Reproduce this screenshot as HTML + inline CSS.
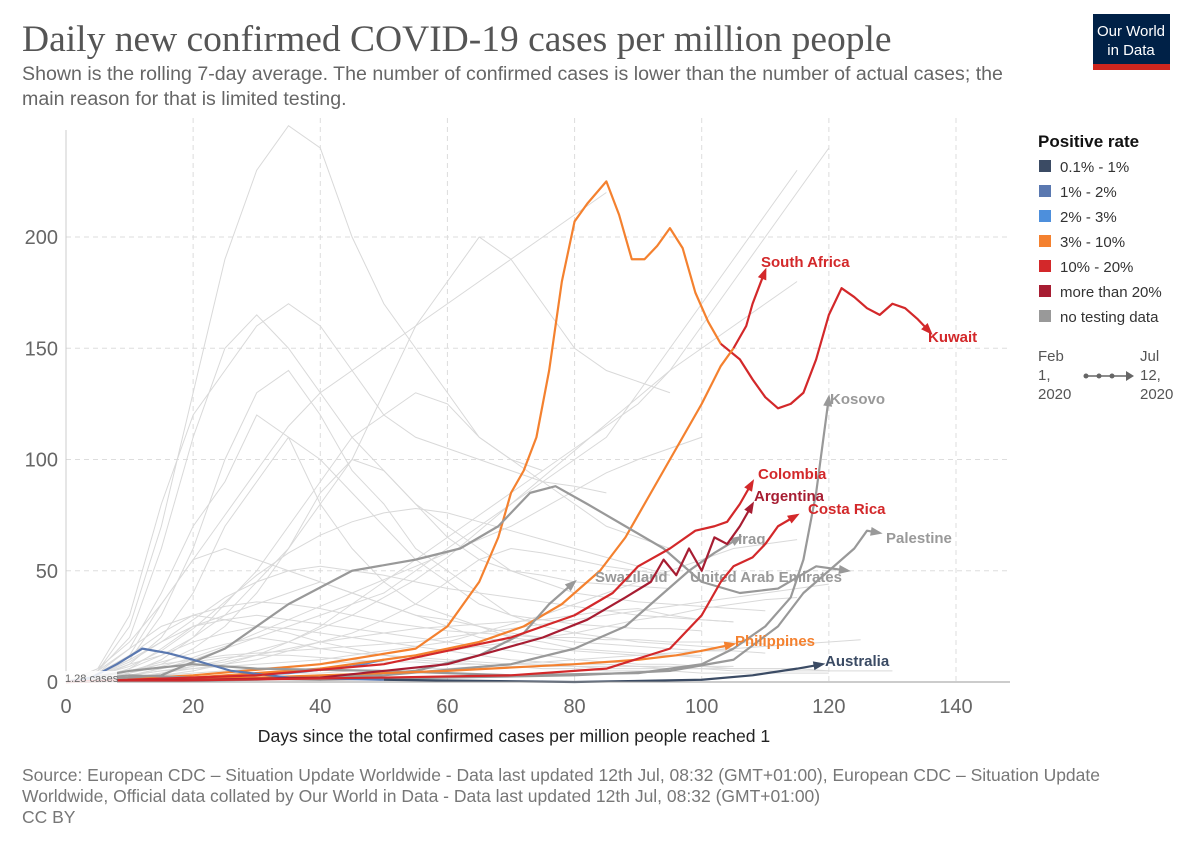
<!DOCTYPE html>
<html><head><meta charset="utf-8">
<style>
body{margin:0;background:#fff;width:1200px;height:847px;overflow:hidden;font-family:"Liberation Sans",sans-serif}
svg{position:absolute;left:0;top:0}
</style></head>
<body>
<svg id="chart" width="1200" height="847">
<text x="22" y="51" font-family="Liberation Serif,serif" font-size="37.5" fill="#555">Daily new confirmed COVID-19 cases per million people</text>
<text x="22" y="80" font-size="19.6" fill="#666">Shown is the rolling 7-day average. The number of confirmed cases is lower than the number of actual cases; the</text>
<text x="22" y="105" font-size="19.6" fill="#666">main reason for that is limited testing.</text>
<g>
<rect x="1093" y="14" width="77" height="56" fill="#002147"/>
<rect x="1093" y="64" width="77" height="6" fill="#ce261e"/>
<text x="1131" y="36" font-size="15" fill="#fff" text-anchor="middle">Our World</text>
<text x="1131" y="55" font-size="15" fill="#fff" text-anchor="middle">in Data</text>
</g>
<g id="grid"></g>
<g id="bg"></g>
<g id="hl"></g>
<g id="axes"></g>
<text x="514" y="742" font-size="17.6" fill="#222" text-anchor="middle">Days since the total confirmed cases per million people reached 1</text>
<g id="legend">
<text x="1038" y="147" font-size="17" font-weight="bold" fill="#111">Positive rate</text>
</g>
<g>
<text x="1038" y="361" font-size="15" fill="#555">Feb</text>
<text x="1038" y="380" font-size="15" fill="#555">1,</text>
<text x="1038" y="399" font-size="15" fill="#555">2020</text>
<text x="1140" y="361" font-size="15" fill="#555">Jul</text>
<text x="1140" y="380" font-size="15" fill="#555">12,</text>
<text x="1140" y="399" font-size="15" fill="#555">2020</text>
<line x1="1084" y1="376" x2="1130" y2="376" stroke="#666" stroke-width="1.5"/>
<circle cx="1086" cy="376" r="2.5" fill="#666"/><circle cx="1099" cy="376" r="2.5" fill="#666"/><circle cx="1112" cy="376" r="2.5" fill="#666"/>
<path d="M1126 371 L1134 376 L1126 381Z" fill="#666"/>
</g>
<text x="22" y="781" font-size="17.5" fill="#777">Source: European CDC – Situation Update Worldwide - Data last updated 12th Jul, 08:32 (GMT+01:00), European CDC – Situation Update</text>
<text x="22" y="802" font-size="17.5" fill="#777">Worldwide, Official data collated by Our World in Data - Data last updated 12th Jul, 08:32 (GMT+01:00)</text>
<text x="22" y="823" font-size="17.5" fill="#777">CC BY</text>
</svg>
<script>
const xTicks=[0,20,40,60,80,100,120,140];
const yTicks=[0,50,100,150,200];
const legendLabels=["0.1% - 1%","1% - 2%","2% - 3%","3% - 10%","10% - 20%","more than 20%","no testing data"];
const legendColors=["#3b4b64","#5a78b0","#4d8fdc","#f4812f","#d3282a","#a71d32","#999"];
// background series: values every 5 days from day 0
const bgSeries=[
[0,5,20,60,110,150,165,150,130,110,95,80,70,60,50,45,40,38,36,35,34,33,32],
[0,3,10,30,60,100,130,140,120,95,80,60,50,40,30,25,22,20,18,17,16,15],
[0,2,8,20,40,70,90,110,100,85,70,55,45,35,30,28,26,25,24,24,23],
[0,4,15,40,70,90,120,110,80,60,45,35,30,25,20,18,15,14,13,12,12],
[0,1,4,10,20,35,50,70,90,110,120,130,125,110,100,90,80,70,65,60],
[0,2,6,15,25,30,35,40,45,40,35,30,28,25,22,20,18,17,16,15,14,14,13],
[0,1,3,6,10,15,20,25,30,35,40,50,60,70,80,90,100,110,130,150,170,190,210,230],
[0,3,8,12,18,22,25,24,22,20,18,16,14,12,10,9,8,8,7,7,7,6,6,6],
[0,1,2,4,6,8,10,14,18,22,28,35,45,55,60,58,55,52,50,48],
[0,2,5,9,13,17,20,18,15,13,12,11,10,9,8,8,7,7,7,6,6,6,6,6,5],
[0,5,25,70,130,190,230,250,240,200,170,150,130,110,100,95],
[0,1,2,3,4,5,6,7,8,9,10,12,14,16,18,20,22,25,28,30,33,35,37,38],
[0,3,12,35,55,60,55,50,45,40,35,30,25,20,18,15,14,13,12,12,11],
[0,2,4,8,15,25,40,60,85,100,95,80,65,55,50,48,45,44,43,42],
[0,1,3,5,7,9,12,15,18,20,22,24,25,26,27,28,30,32,33,30,28,27],
[0,4,10,18,25,28,30,28,26,24,22,20,18,16,14,12,10,9,8,8,7,7],
[0,6,30,80,120,140,160,170,160,140,120,110,105,100,95,90,88,85],
[0,2,6,12,20,30,45,60,80,100,130,160,180,200,190,170,150,140,135,130],
[0,1,2,3,5,8,12,18,25,35,45,55,65,75,85,95,105,115,125,140,160,180,200,220,240],
[0,3,9,18,28,38,45,50,52,50,48,45,42,40,38,36,34,32,30,29,28,27],
[0,2,5,8,10,12,13,14,15,16,17,18,20,22,24,26,28,30,32,34,36,38,40,42,44],
[0,1,1,2,2,3,3,4,4,5,5,6,6,7,8,9,10,11,12,13,14,15,16,17,18,19],
[0,4,12,22,30,34,36,35,33,30,27,25,23,22,21,20,20,19,19,18,18,18,17],
[0,2,3,5,6,7,8,9,10,12,14,16,18,22,26,30,35,40,45,50,55,60,62,64],
[0,5,15,25,30,28,25,22,18,15,12,10,9,8,7,6,6,5,5,5,4,4,4,4,4],
[0,3,7,14,24,36,48,58,66,72,76,78,76,72,68,64,60,56,52,48],
[0,1,3,6,9,11,12,12,11,10,9,9,8,8,7,7,7,6,6,6,6,5,5,5,5,5,5],
[0,2,4,7,11,16,22,28,34,40,46,52,58,64,70,78,86,94,100,105,110],
[0,6,18,35,55,75,95,115,130,140,150,160,170,180,190,200,210,220],
[0,1,2,4,7,10,14,18,24,30,38,46,56,68,80,92,104,116,128,140,150,160,170,180]
];
// highlighted series: [day,value] pairs
const kuwaitOrange=[[0,0],[20,3],[40,8],[55,15],[60,25],[65,45],[68,65],[70,85],[72,95],[74,110],[76,140],[78,180],[80,207],[82,215],[85,225],[87,210],[89,190],[91,190],[93,196],[95,204],[97,195],[99,175],[101,162],[103,152]];
const kuwaitRed=[[103,152],[106,145],[108,136],[110,128],[112,123],[114,125],[116,130],[118,145],[120,165],[122,177],[124,173],[126,168],[128,165],[130,170],[132,168],[134,163],[136,157]];
const saOrange=[[0,0],[20,2],[40,6],[55,12],[65,18],[72,25],[78,35],[84,50],[88,65],[92,85],[96,105],[100,125],[103,142],[105,150]];
const saRed=[[105,150],[106,155],[107,160],[108,170],[110,185]];
const colombia=[[0,0],[30,3],[50,8],[60,14],[70,20],[80,30],[86,40],[90,52],[95,60],[99,68],[102,70],[104,72],[106,80],[108,90]];
const argentina=[[0,0],[40,2],[60,8],[75,20],[82,28],[88,38],[92,45],[94,55],[96,48],[98,60],[100,50],[102,65],[104,62],[106,70],[108,80]];
const costaRica=[[0,0],[50,2],[70,3],[85,6],[95,15],[100,30],[103,45],[105,52],[108,56],[110,62],[112,70],[115,75]];
const iraq=[[0,0],[30,1],[50,3],[70,8],[80,15],[88,25],[94,40],[98,50],[102,58],[106,65]];
const kosovo=[[0,0],[10,5],[20,8],[30,6],[50,5],[70,3],[90,4],[100,8],[105,15],[110,25],[114,38],[116,55],[118,85],[120,128]];
const palestine=[[0,0],[10,3],[20,2],[40,1],[60,2],[80,3],[95,5],[105,10],[112,25],[116,40],[120,50],[124,60],[126,68],[128,67]];
const uae=[[0,0],[15,3],[25,15],[35,35],[45,50],[55,55],[62,60],[68,70],[73,85],[77,88],[82,80],[88,70],[94,60],[100,45],[106,40],[112,42],[118,52],[123,50]];
const swaziland=[[0,0],[20,1],[40,2],[55,5],[65,12],[72,22],[76,35],[80,45]];
const philippines=[[0,0],[30,2],[60,5],[80,8],[90,10],[96,12],[100,14],[105,17]];
const australiaEarly=[[0,0],[4,2],[8,8],[12,15],[16,13],[20,10],[26,5],[35,2],[50,1]];
const australia=[[50,1],[80,0],[100,1],[108,3],[115,6],[119,8]];
const blueSeries=[[0,0],[20,2],[35,4],[45,7],[50,10]];
const ns="http://www.w3.org/2000/svg";
const X0=66,PXD=890/140,Y0=682,PXV=445/200;
const xs=d=>X0+d*PXD, ys=v=>Math.max(118,Y0-v*PXV);
function mk(t,a,p){const e=document.createElementNS(ns,t);for(const k in a)e.setAttribute(k,a[k]);p.appendChild(e);return e;}
const grid=document.getElementById('grid'),axes=document.getElementById('axes'),bg=document.getElementById('bg'),hl=document.getElementById('hl');
yTicks.forEach(v=>{if(v>0)mk('line',{x1:66,x2:1010,y1:ys(v),y2:ys(v),stroke:'#ddd','stroke-dasharray':'5,4'},grid);
const t=mk('text',{x:58,y:ys(v)+7,'font-size':20,fill:'#666','text-anchor':'end'},axes);t.textContent=v;

});
xTicks.forEach(d=>{if(d>0)mk('line',{x1:xs(d),x2:xs(d),y1:118,y2:682,stroke:'#ddd','stroke-dasharray':'5,4'},grid);
const t=mk('text',{x:xs(d),y:713,'font-size':20,fill:'#666','text-anchor':'middle'},axes);t.textContent=d;

});
mk('line',{x1:66,x2:1010,y1:682,y2:682,stroke:'#999'},axes);
mk('line',{x1:66,x2:66,y1:130,y2:682,stroke:'#ccc'},axes);
bgSeries.forEach(s=>{const p=mk('polyline',{points:s.map((v,i)=>xs(i*5)+','+ys(v)).join(' '),fill:'none',stroke:'#d9d9d9','stroke-width':1},bg);

});
function line(pts,col,name,label,lx,ly,arrow){
const g=mk('g',{},hl);


mk('polyline',{points:pts.map(p=>xs(p[0])+','+ys(p[1])).join(' '),fill:'none',stroke:col,'stroke-width':2.2,'stroke-linejoin':'round'},g);
if(arrow){const a=pts[pts.length-1],b=pts[pts.length-2];const x=xs(a[0]),y=ys(a[1]),ang=Math.atan2(y-ys(b[1]),x-xs(b[0]));
const L=9,W=4.5,c=Math.cos(ang),s=Math.sin(ang);
mk('path',{d:`M${x+c*3} ${y+s*3} L${x-c*L-s*W} ${y-s*L+c*W} L${x-c*L+s*W} ${y-s*L-c*W}Z`,fill:col},g);}
if(label){const t=mk('text',{x:lx,y:ly,'font-size':15,'font-weight':'bold',fill:col},g);t.textContent=label;}
}
line(blueSeries,'#4d8fdc','blue-country-line');
line(kuwaitOrange,'#f4812f','kuwait-line-early');
line(kuwaitRed,'#d3282a','kuwait-line','Kuwait',928,342,true);
line(saOrange,'#f4812f','south-africa-line-early');
line(saRed,'#d3282a','south-africa-line','South Africa',761,267,true);
line(swaziland,'#999','swaziland-line','Swaziland',595,582,true);
line(uae,'#999','uae-line','United Arab Emirates',690,582,true);
line(iraq,'#999','iraq-line','Iraq',738,544,true);
line(palestine,'#999','palestine-line','Palestine',886,543,true);
line(kosovo,'#999','kosovo-line','Kosovo',830,404,true);
line(philippines,'#f4812f','philippines-line','Philippines',735,646,true);
line(australiaEarly,'#5a78b0','australia-line-early');
line(australia,'#3b4b64','australia-line','Australia',825,666,true);
line(colombia,'#d3282a','colombia-line','Colombia',758,479,true);
line(argentina,'#a71d32','argentina-line','Argentina',754,501,true);
line(costaRica,'#d3282a','costa-rica-line','Costa Rica',808,514,true);
const lb=mk('g',{},axes);


mk('rect',{x:63,y:671,width:54,height:13,fill:'#fff',opacity:0.85},lb);
const tl=mk('text',{x:65,y:682,'font-size':11,fill:'#666'},lb);tl.textContent='1.28 cases';
const leg=document.getElementById('legend');
legendLabels.forEach((l,i)=>{const y=167+i*25;
const g=mk('g',{},leg);


mk('rect',{x:1039,y:y-7,width:12,height:12,fill:legendColors[i]},g);
const t=mk('text',{x:1060,y:y+5,'font-size':15,fill:'#333'},g);t.textContent=l;});
</script>
</body></html>
